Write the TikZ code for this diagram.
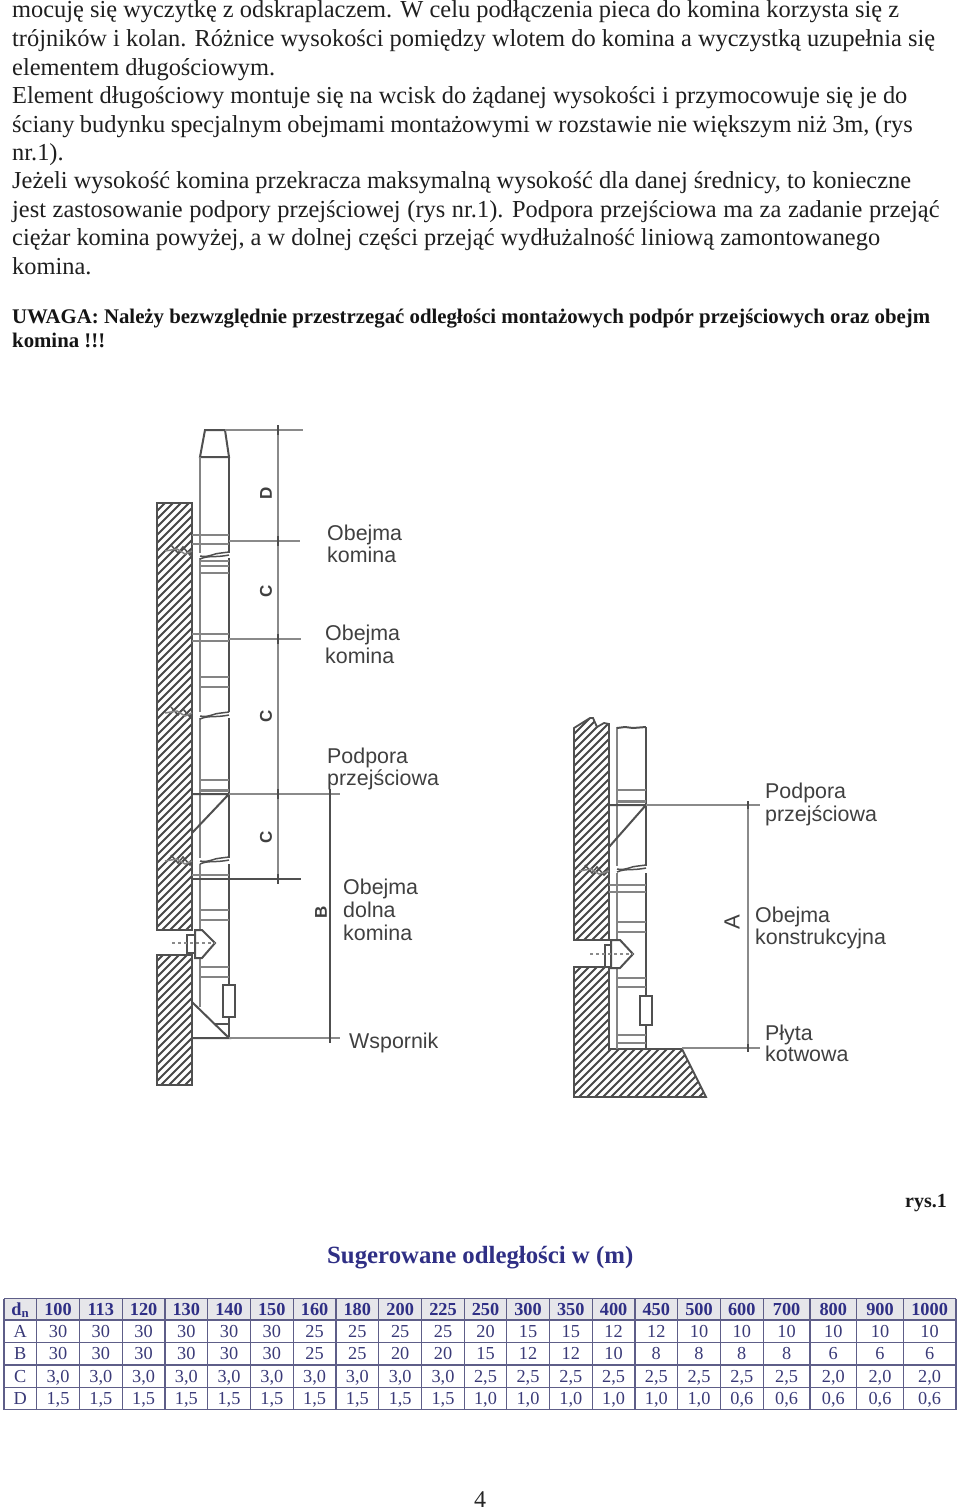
\documentclass[tikz,border=0pt]{standalone}
\usepackage{fontspec}
\setmainfont{Liberation Serif}
\newfontfamily\labfont{Liberation Sans}
\definecolor{navy}{HTML}{2F2F85}
\definecolor{navybody}{HTML}{3A3A78}
\definecolor{rule}{HTML}{5E5E88}
\definecolor{headfill}{HTML}{E6E6EA}
\definecolor{draft}{HTML}{505050}
\definecolor{dimgray}{HTML}{8A8A8A}
\definecolor{labgray}{HTML}{404040}
\tikzset{
  x=1pt,y=-1pt,
  txt/.style={anchor=base west,inner sep=0pt,font=\fontsize{24.4}{28}\selectfont,text=black!88},
  boldtxt/.style={anchor=base west,inner sep=0pt,font=\fontsize{20.8}{24}\selectfont\bfseries,text=black!92},
  lab/.style={anchor=base west,inner sep=0pt,font=\labfont\fontsize{21.4}{24}\selectfont,text=labgray},
  rotlab/.style={inner sep=0pt,rotate=90,font=\labfont\fontsize{17}{20}\selectfont\bfseries,text=labgray},
  head/.style={inner sep=0pt,anchor=base,font=\fontsize{18.3}{20}\selectfont\bfseries,text=navy},
  cell/.style={inner sep=0pt,anchor=base,font=\fontsize{18.3}{20}\selectfont,text=navybody},
  wall/.style={draw=draft,line width=1.8pt},
  hatchline/.style={draw=black!72,line width=2pt},
  flue/.style={draw=draft,line width=2pt},
  flueleft/.style={draw=draft!70,line width=2pt},
  band/.style={draw=draft!70,line width=1.8pt},
  thinbit/.style={draw=draft,line width=1.5pt},
  ext/.style={draw=dimgray,line width=2pt},
  dimline/.style={draw=dimgray,line width=2.6pt},
  tick/.style={draw=black!70,line width=2.4pt},
  gridline/.style={draw=rule,line width=1.2pt},
  dashpipe/.style={draw=dimgray,line width=1.2pt,dashed},
}
\newcommand{\hatchfill}[3]{%
  \begin{scope}
    \clip #1;
    \foreach \k in {#2,\the\numexpr#2+8\relax,...,#3}
      \draw[hatchline] (\k-1200,1200) -- (\k-300,300);
  \end{scope}
  \draw[wall] #1;
}
\newcommand{\joint}[3]{% left x, right x, y
  \draw[thinbit] (#1,#3+2) .. controls (#1+9,#3+4) and (#2-15,#3-1) .. (#2-8,#3-1) -- (#2,#3-2);
  \draw[thinbit] (#1,#3+5) .. controls (#1+9,#3+1) and (#2-15,#3+4) .. (#2,#3+1);
}
\newcommand{\squiggle}[3]{%
  \draw[draft,line width=1.5pt] (#1,#3-5) -- (#1+7,#3+3) -- (#1+12,#3-3) -- (#1+19,#3+5) -- (#2,#3);
  \draw[draft!70,line width=1.5pt] (#1-6,#3+1) -- (#1+6,#3-1) -- (#1+14,#3+4) -- (#2,#3+1);
}
\begin{document}
\begin{tikzpicture}
\useasboundingbox (0,0) rectangle (960,1510);
\fill[white] (0,0) rectangle (960,1510);

% body text
\node[txt] (l1) at (12,17.5) {mocuję się wyczytkę z odskraplaczem. W celu podłączenia pieca do komina korzysta się z};
\node[txt] (l2) at (12,46) {trójników i kolan. Różnice wysokości pomiędzy wlotem do komina a wyczystką uzupełnia się};
\node[txt] (l3) at (12,75) {elementem długościowym.};
\node[txt] (l4) at (12,103) {Element długościowy montuje się na wcisk do żądanej wysokości i przymocowuje się je do};
\node[txt] (l5) at (12,132) {\spaceskip=5.43pt ściany budynku specjalnym obejmami montażowymi w rozstawie nie większym niż 3m, (rys};
\node[txt] (l6) at (12,160) {nr.1).};
\node[txt] (l7) at (12,188.5) {Jeżeli wysokość komina przekracza maksymalną wysokość dla danej średnicy, to konieczne};
\node[txt] (l8) at (12,217) {\spaceskip=6.64pt jest zastosowanie podpory przejściowej (rys nr.1). Podpora przejściowa ma za zadanie przejąć};
\node[txt] (l9) at (12,245.5) {ciężar komina powyżej, a w dolnej części przejąć wydłużalność liniową zamontowanego};
\node[txt] (l10) at (12,274) {komina.};
\node[boldtxt] (u1) at (12,323) {UWAGA: Należy bezwzględnie przestrzegać odległości montażowych podpór przejściowych oraz obejm};
\node[boldtxt] (u2) at (12,347) {komina !!!};

% ---------- left figure ----------
\hatchfill{(157,503) rectangle (192,930)}{660}{1130}
\hatchfill{(157,955) rectangle (192,1085)}{1110}{1290}
\squiggle{171}{192}{550}
\squiggle{171}{192}{712}
\squiggle{171}{192}{860}

\draw[flue] (200,457) -- (205,430) -- (225,430) -- (229,457) -- cycle;
\draw[flueleft] (200,457) -- (200,553);
\draw[flue] (229,457) -- (229,553);
\draw[flueleft] (200,558) -- (200,712);
\draw[flue] (229,558) -- (229,712);
\draw[flueleft] (200,718) -- (200,858);
\draw[flue] (229,718) -- (229,858);
\draw[flueleft] (200,864) -- (200,1007);
\draw[flue] (229,864) -- (229,1038);
\joint{200}{229}{554}
\joint{200}{229}{714}
\joint{200}{229}{859}
\draw[band] (192,535) -- (229,535) (192,544) -- (229,544);
\draw[band,line width=2.4pt] (200,561) -- (229,561);
\draw[band] (200,566) -- (229,566) (200,573) -- (229,573);
\draw[band] (192,634) -- (229,634) (192,641) -- (229,641);
\draw[band] (200,677) -- (229,677) (200,687) -- (229,687);
\draw[band] (200,780) -- (229,780);
\draw[band,line width=3pt] (200,790) -- (229,790);
\draw[band] (192,875) -- (229,875);
\draw[band] (200,910) -- (229,910) (200,920) -- (229,920);
\draw[band] (200,967) -- (229,967) (200,977) -- (229,977);
% upper support
\draw[flue] (192,794) -- (229,794) -- (192,833);
% flue stub
\draw[flue,fill=white] (195,930) -- (202,930) -- (215,943) -- (202,958) -- (195,958) -- cycle;
\draw[flue,fill=white] (187,935) rectangle (195,953);
\draw[dashpipe] (172,943) -- (215,943);
% damper
\draw[flue,fill=white] (223,985) rectangle (235,1017);
% bracket
\draw[flue] (192,1002) -- (229,1038) -- (192,1038);
\draw[thinbit] (215,1024) -- (229,1024);

% dimensions left
\coordinate (dTop) at (278,430);
\coordinate (dA) at (278,541);
\coordinate (dB) at (278,639);
\coordinate (dC) at (278,794);
\coordinate (dD) at (278,879);
\coordinate (eTop) at (303,430);
\coordinate (sTop) at (225,430);
\coordinate (eA) at (300,541);
\coordinate (sA) at (229,541);
\coordinate (eB) at (301,639);
\coordinate (sB) at (229,639);
\coordinate (eC) at (340,794);
\coordinate (sC) at (229,794);
\coordinate (eD) at (301,879);
\coordinate (sD) at (192,879);
\coordinate (fC) at (330,794);
\coordinate (fE) at (330,1038);
\coordinate (eE) at (340,1038);
\coordinate (sE) at (229,1038);
\draw[ext] (sTop) -- (eTop);
\draw[ext] (sA) -- (eA);
\draw[ext] (sB) -- (eB);
\draw[ext] (sC) -- (eC);
\draw[ext,draw=draft] (sD) -- (eD);
\draw[ext] (sE) -- (eE);
\draw[dimline] (dTop) -- (dD);
\draw[dimline,draw=draft] (fC) -- (fE);
\foreach \t in {dTop,dA,dB,dC,dD,fC,fE}
  \draw[tick] ([yshift=5pt]\t) -- ([yshift=-5pt]\t);

\node[rotlab] (rD) at (266,493) {D};
\node[rotlab] (rC1) at (266,591) {C};
\node[rotlab] (rC2) at (266,716) {C};
\node[rotlab] (rC3) at (266,837) {C};
\node[rotlab] (rB) at (321,912) {B};

\node[lab] (o1a) at (327,540) {Obejma};
\node[lab] (o1b) at (327,562) {komina};
\node[lab] (o2a) at (325,640) {Obejma};
\node[lab] (o2b) at (325,663) {komina};
\node[lab] (p1a) at (327,763) {Podpora};
\node[lab] (p1b) at (327,785) {przejściowa};
\node[lab] (o3a) at (343,894) {Obejma};
\node[lab] (o3b) at (343,917) {dolna};
\node[lab] (o3c) at (343,940) {komina};
\node[lab] (ws) at (349,1048) {Wspornik};

% ---------- right figure ----------
\hatchfill{(574,728) -- (590,718) -- (593,718) -- (597,727) -- (604,723) -- (609,724) -- (609,940) -- (574,940) -- cycle}{1300}{1560}
\hatchfill{(574,967) -- (609,967) -- (609,1049) -- (682,1049) -- (706,1097) -- (574,1097) -- cycle}{1540}{1810}
\squiggle{585}{609}{870}

\draw[flueleft] (617,727) -- (617,866);
\draw[flue] (646,727) -- (646,866);
\draw[flueleft] (617,873) -- (617,1049);
\draw[flue] (646,873) -- (646,1049);
\draw[flue] (617,728) -- (625,727) -- (633,728) -- (646,727);
\joint{617}{646}{867}
\draw[band] (617,790) -- (646,790);
\draw[band,line width=3pt] (617,801) -- (646,801);
\draw[flue] (609,805) -- (646,805) -- (609,847);
\draw[band] (609,885) -- (646,885) (609,892) -- (646,892);
\draw[band] (617,922) -- (646,922) (617,932) -- (646,932);
\draw[band] (617,978) -- (646,978) (617,987) -- (646,987);
\draw[band] (617,1035) -- (646,1035) (617,1043) -- (646,1043);
\draw[flue,fill=white] (611,940) -- (620,940) -- (633,954) -- (620,968) -- (611,968) -- cycle;
\draw[flue,fill=white] (605,945) rectangle (611,967);
\draw[dashpipe] (590,954) -- (633,954);
\draw[flue,fill=white] (640,996) rectangle (652,1025);

\coordinate (gTop) at (748,805);
\coordinate (gBot) at (748,1048);
\coordinate (gTe) at (760,805);
\coordinate (gTs) at (646,805);
\coordinate (gBe) at (760,1048);
\coordinate (gBs) at (682,1048);
\draw[ext] (gTs) -- (gTe);
\draw[ext] (gBs) -- (gBe);
\draw[dimline] (gTop) -- (gBot);
\foreach \t in {gTop,gBot}
  \draw[tick] ([yshift=4pt]\t) -- ([yshift=-4pt]\t);

\node[rotlab,font=\labfont\fontsize{22}{24}\selectfont] (rA) at (732,922) {A};
\node[lab] (p2a) at (765,798) {Podpora};
\node[lab] (p2b) at (765,821) {przejściowa};
\node[lab] (o4a) at (755,922) {Obejma};
\node[lab] (o4b) at (755,944) {konstrukcyjna};
\node[lab] (pl1) at (765,1040) {Płyta};
\node[lab] (pl2) at (765,1061) {kotwowa};

% captions
\node[anchor=base east,inner sep=0pt,font=\fontsize{20}{24}\selectfont\bfseries,text=black!90] (rys) at (947,1207) {rys.1};
\node[anchor=base west,inner sep=0pt,font=\fontsize{24.8}{28}\selectfont\bfseries,text=navy] (title) at (327,1263) {Sugerowane odległości w (m)};

% table
\fill[headfill] (4,1298.5) rectangle (956,1320);
\foreach \yy in {1298.5,1320,1342.5,1365,1387.5,1409.5}
  \draw[gridline] (4,\yy) -- (956,\yy);
\foreach \xx in {4,36.7,79.3,122.3,165,207.7,250.3,293.3,336,378.7,421.7,464.3,506.7,549.3,592.3,635,677.7,720.3,763.3,810,856.7,903.3,956}
  \draw[gridline] (\xx,1298.5) -- (\xx,1409.5);
\node[head] (hd) at (20.3,1315) {d\textsubscript{n}};
\node[cell] (ra) at (20.3,1337) {A};
\node[cell] (rb) at (20.3,1359.5) {B};
\node[cell] (rc) at (20.3,1382) {C};
\node[cell] (rd) at (20.3,1404) {D};
\foreach \cx/\h/\a/\b/\c/\d [count=\n] in {
  58/100/30/30/{3,0}/{1,5},
  100.8/113/30/30/{3,0}/{1,5},
  143.6/120/30/30/{3,0}/{1,5},
  186.3/130/30/30/{3,0}/{1,5},
  229/140/30/30/{3,0}/{1,5},
  271.8/150/30/30/{3,0}/{1,5},
  314.6/160/25/25/{3,0}/{1,5},
  357.3/180/25/25/{3,0}/{1,5},
  400.2/200/25/20/{3,0}/{1,5},
  443/225/25/20/{3,0}/{1,5},
  485.5/250/20/15/{2,5}/{1,0},
  528/300/15/12/{2,5}/{1,0},
  570.8/350/15/12/{2,5}/{1,0},
  613.6/400/12/10/{2,5}/{1,0},
  656.3/450/12/8/{2,5}/{1,0},
  699/500/10/8/{2,5}/{1,0},
  741.8/600/10/8/{2,5}/{0,6},
  786.6/700/10/8/{2,5}/{0,6},
  833.3/800/10/6/{2,0}/{0,6},
  880/900/10/6/{2,0}/{0,6},
  929.6/1000/10/6/{2,0}/{0,6}}{
  \node[head] (h\n) at (\cx,1315) {\h};
  \node[cell] (a\n) at (\cx,1337) {\a};
  \node[cell] (b\n) at (\cx,1359.5) {\b};
  \node[cell] (c\n) at (\cx,1382) {\c};
  \node[cell] (d\n) at (\cx,1404) {\d};
}
\node[anchor=base,inner sep=0pt,font=\fontsize{24}{28}\selectfont,text=black!85] (pg) at (480,1507) {4};
\end{tikzpicture}
\end{document}
